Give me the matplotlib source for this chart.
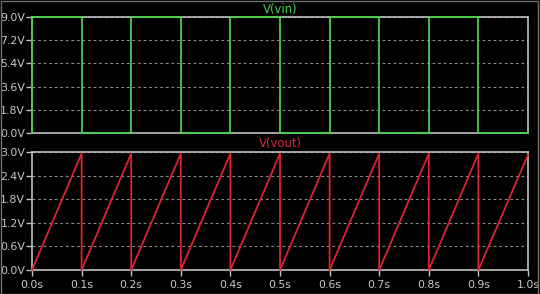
import matplotlib
matplotlib.use("Agg")
import matplotlib.pyplot as plt
from matplotlib.patches import Rectangle

# Data
vin_t = [0.0, 0.0, 0.1, 0.1, 0.2, 0.2, 0.3, 0.3, 0.4, 0.4, 0.5, 0.5, 0.6, 0.6, 0.7, 0.7, 0.8, 0.8, 0.9, 0.9, 1.0]
vin_v = [0.0, 9.0, 9.0, 0.0, 0.0, 9.0, 9.0, 0.0, 0.0, 9.0, 9.0, 0.0, 0.0, 9.0, 9.0, 0.0, 0.0, 9.0, 9.0, 0.0, 0.0]

vout_t = [0.0, 0.1, 0.1, 0.2, 0.2, 0.3, 0.3, 0.4, 0.4, 0.5, 0.5, 0.6, 0.6, 0.7, 0.7, 0.8, 0.8, 0.9, 0.9, 1.0]
vout_v = [0.0, 2.96, 0.0, 2.96, 0.0, 2.96, 0.0, 2.96, 0.0, 2.96, 0.0, 2.96, 0.0, 2.96, 0.0, 2.96, 0.0, 2.96, 0.0, 2.93]

vin_ticks = [0.0, 1.8, 3.6, 5.4, 7.2, 9.0]
vin_labels = ["0.0V", "1.8V", "3.6V", "5.4V", "7.2V", "9.0V"]
vout_ticks = [0.0, 0.6, 1.2, 1.8, 2.4, 3.0]
vout_labels = ["0.0V", "0.6V", "1.2V", "1.8V", "2.4V", "3.0V"]
t_ticks = [0.0, 0.1, 0.2, 0.3, 0.4, 0.5, 0.6, 0.7, 0.8, 0.9, 1.0]
t_labels = ["0.0s", "0.1s", "0.2s", "0.3s", "0.4s", "0.5s", "0.6s", "0.7s", "0.8s", "0.9s", "1.0s"]

W, H = 540, 294
fig = plt.figure(figsize=(W / 100, H / 100), dpi=100, facecolor="black")

green = "#46d046"
red = "#dc2430"
frame_c = "#c0c0c0"
txt_c = "#c8c8c8"
grid_c = "#8a8a8a"
fs = 7.9


def make_ax(top, bottom):
    l = 32 / W
    r = 528 / W
    ax = fig.add_axes([l, 1 - bottom / H, r - l, (bottom - top) / H])
    ax.set_facecolor("black")
    for s in ax.spines.values():
        s.set_color(frame_c)
        s.set_linewidth(1.2)
    ax.set_xlim(0, 1.0)
    ax.tick_params(colors=frame_c, labelcolor=txt_c, labelsize=fs, length=4, width=1, pad=1)
    ax.yaxis.grid(True, color=grid_c, linestyle=(0, (2.5, 2.5)), linewidth=0.8)
    ax.xaxis.grid(False)
    return ax


ax1 = make_ax(17, 133)
ax1.plot(vin_t, vin_v, color=green, lw=1.3, clip_on=False, zorder=5)
ax1.set_ylim(0, 9.0)
ax1.set_yticks(vin_ticks)
ax1.set_yticklabels(vin_labels)
ax1.set_xticks(t_ticks)
ax1.tick_params(axis="x", length=0, labelbottom=False)
fig.text(280 / W, 1 - 9 / H, "V(vin)", color=green, fontsize=fs + 0.5, ha="center", va="center")

ax2 = make_ax(152, 270)
ax2.plot(vout_t, vout_v, color=red, lw=1.3, clip_on=False, zorder=5)
ax2.set_ylim(0, 3.0)
ax2.set_yticks(vout_ticks)
ax2.set_yticklabels(vout_labels)
ax2.set_xticks(t_ticks)
ax2.set_xticklabels(t_labels)
ax2.tick_params(axis="x", pad=3)
fig.text(280 / W, 1 - 143.5 / H, "V(vout)", color=red, fontsize=fs + 0.5, ha="center", va="center")

fig.patches.append(Rectangle((0.5 / W, 0.5 / H), 1 - 2.5 / W, 1 - 1.5 / H, transform=fig.transFigure,
                             fill=False, edgecolor="#707070", linewidth=1.0))

fig.savefig("out.png", dpi=100, facecolor="black")
